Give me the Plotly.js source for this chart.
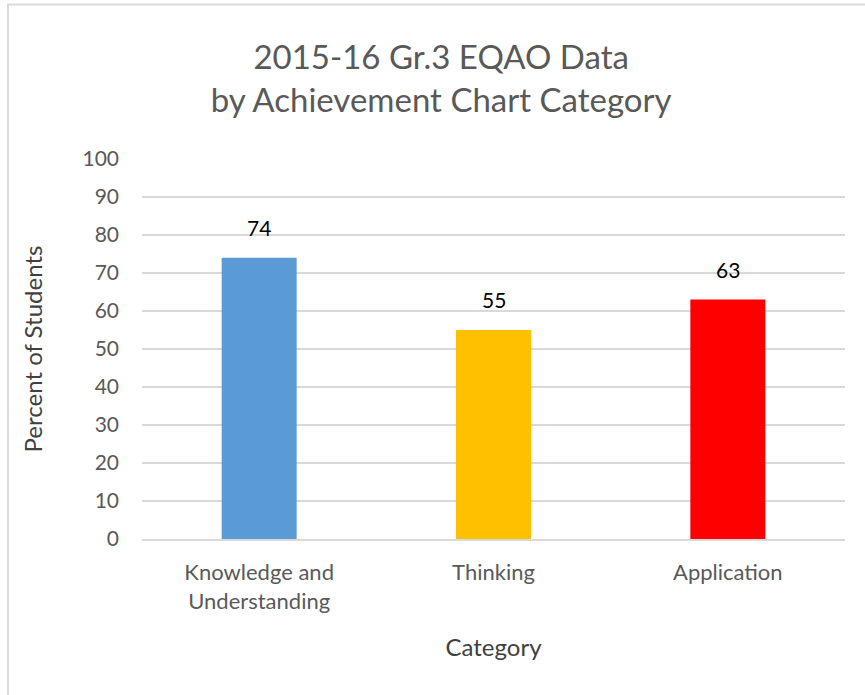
<!DOCTYPE html>
<html>
<head>
<meta charset="utf-8">
<script src="https://cdn.plot.ly/plotly-3.0.1.min.js"></script>
<style>
html,body{margin:0;padding:0;background:#fff;}
#chart{width:865px;height:695px;}
</style>
</head>
<body>
<div id="chart"></div>
<script>
const categories = ["Knowledge and<br>Understanding", "Thinking", "Application"];
const values = [74, 55, 63];
const barColors = ["#5B9BD5", "#FFC000", "#FF0000"];
const yTickValues = [0, 10, 20, 30, 40, 50, 60, 70, 80, 90, 100];

const FONT = "Lato, 'Open Sans', sans-serif";

const trace = {
  type: "bar",
  x: categories,
  y: values,
  marker: { color: barColors },
  hoverinfo: "none",
  showlegend: false
};

const annotations = categories.map((c, i) => ({
  x: c,
  y: values[i],
  xref: "x",
  yref: "y",
  text: String(values[i]),
  showarrow: false,
  yanchor: "bottom",
  yshift: 16,
  font: { family: FONT, size: 21, color: "#000000" }
}));

const layout = {
  width: 865,
  height: 695,
  margin: { l: 142, r: 20, t: 159, b: 156 },
  paper_bgcolor: "#ffffff",
  plot_bgcolor: "#ffffff",
  bargap: 0.68,
  font: { family: FONT, color: "#595959" },
  title: {
    text: "2015-16 Gr.3 EQAO Data<br>by Achievement Chart Category",
    font: { family: FONT, size: 33, color: "#595959" },
    x: 0.51,
    xref: "container",
    xanchor: "center",
    y: 0.901,
    yref: "container",
    yanchor: "top"
  },
  xaxis: {
    type: "category",
    showgrid: false,
    showline: true,
    linecolor: "#d9d9d9",
    linewidth: 1.5,
    ticks: "",
    ticklabelstandoff: 13,
    tickfont: { family: FONT, size: 22, color: "#595959" },
    title: {
      text: "Category",
      font: { family: FONT, size: 24, color: "#404040" },
      standoff: 26
    },
    automargin: false
  },
  yaxis: {
    range: [0, 100],
    tickvals: yTickValues,
    ticktext: yTickValues.map(String),
    showgrid: true,
    gridcolor: "#d9d9d9",
    gridwidth: 1.5,
    zeroline: false,
    showline: false,
    ticks: "",
    ticklabelstandoff: 22,
    tickfont: { family: FONT, size: 21, color: "#595959" },
    title: {
      text: "Percent of Students",
      font: { family: FONT, size: 24, color: "#404040" },
      standoff: 33
    },
    automargin: false
  },
  shapes: [{
    type: "rect",
    xref: "paper",
    yref: "paper",
    x0: -0.1906,
    x1: 1.04,
    y0: -0.43,
    y1: 1.4066,
    line: { color: "#d9d9d9", width: 2 },
    fillcolor: "rgba(0,0,0,0)",
    layer: "below"
  }],
  annotations: annotations
};

Plotly.newPlot("chart", [trace], layout, { displayModeBar: false, staticPlot: true });
</script>
</body>
</html>
